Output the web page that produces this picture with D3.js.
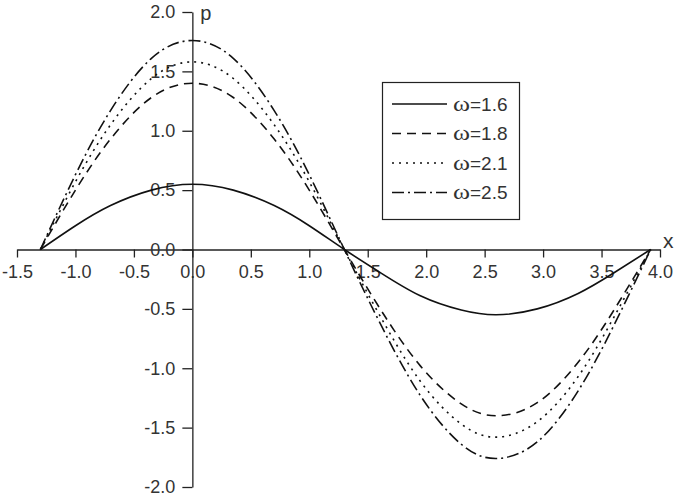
<!DOCTYPE html>
<html><head><meta charset="utf-8">
<script src="https://cdn.jsdelivr.net/npm/d3@7"></script>
<style>body{margin:0;background:#fff}svg{display:block}text{font-family:"Liberation Sans",Arial,sans-serif}</style>
</head><body><svg id="c" width="680" height="498"></svg>
<script>
const xs = [-1.3,-1.0,-0.7,-0.35,0,0.35,0.7,1.0,1.3,1.6,1.95,2.3,2.6,2.95,3.3,3.6,3.92];
const w16 = [0,0.20,0.37,0.50,0.55,0.50,0.37,0.20,0,-0.19,-0.39,-0.51,-0.55,-0.50,-0.37,-0.20,0];
const w18 = [0,0.50,0.93,1.28,1.40,1.28,0.93,0.50,0,-0.49,-0.98,-1.30,-1.40,-1.29,-0.95,-0.52,0];
const w21 = [0,0.57,1.05,1.44,1.58,1.44,1.05,0.57,0,-0.55,-1.11,-1.47,-1.58,-1.45,-1.07,-0.58,0];
const w25 = [0,0.63,1.17,1.61,1.76,1.61,1.17,0.63,0,-0.61,-1.23,-1.64,-1.76,-1.62,-1.19,-0.65,0];
const seriesNames = ["=1.6","=1.8","=2.1","=2.5"];
const xTicks = [-1.5,-1.0,-0.5,0.0,0.5,1.0,1.5,2.0,2.5,3.0,3.5,4.0];
const yTicks = [-2.0,-1.5,-1.0,-0.5,0.0,0.5,1.0,1.5,2.0];

const series = [w16,w18,w21,w25];
const dashes = [null,"9,6","2,5","12,4,2,4"];
const svg = d3.select("#c");
const x = d3.scaleLinear().domain([-1.5,4.0]).range([17,660]);
const y = d3.scaleLinear().domain([-2.0,2.0]).range([487,12]);
const col = "#333";
const fmt = d => d.toFixed(1);

const xg = svg.append("g").attr("transform",`translate(0,${y(0)})`)
  .call(d3.axisBottom(x).tickValues(xTicks).tickFormat(fmt).tickSize(8).tickSizeOuter(0));
xg.select(".domain").attr("stroke","#222").attr("stroke-width",1.3);
xg.selectAll(".tick line").attr("stroke","#222").attr("stroke-width",1.3);
xg.selectAll(".tick text").attr("font-size",18).attr("fill",col).attr("y",16);

const yg = svg.append("g").attr("transform",`translate(${x(0)},0)`)
  .call(d3.axisLeft(y).tickValues(yTicks).tickFormat(fmt).tickSize(10).tickSizeOuter(0));
yg.select(".domain").attr("stroke","#222").attr("stroke-width",1.3);
yg.selectAll(".tick line").attr("stroke","#222").attr("stroke-width",1.3);
yg.selectAll(".tick text").attr("font-size",18).attr("fill",col).attr("x",-17);

svg.append("text").attr("x",x(0)+8).attr("y",20).attr("font-size",20).attr("fill",col).text("p");
svg.append("text").attr("x",663).attr("y",y(0)-2).attr("font-size",21).attr("fill",col).text("x");

const line = d3.line().x(d=>x(d[0])).y(d=>y(d[1])).curve(d3.curveNatural);
series.forEach((s,i)=>{
  svg.append("path").datum(xs.map((xv,j)=>[xv,s[j]]))
    .attr("d",line).attr("fill","none").attr("stroke","#111").attr("stroke-width",1.6)
    .attr("stroke-dasharray",dashes[i]);
});

const lg = svg.append("g");
lg.append("rect").attr("x",382.5).attr("y",82.5).attr("width",137).attr("height",137)
  .attr("fill","#fff").attr("stroke","#222").attr("stroke-width",1.2);
seriesNames.forEach((n,i)=>{
  const yy = 104 + i*29.5;
  lg.append("line").attr("x1",392).attr("x2",447).attr("y1",yy).attr("y2",yy)
    .attr("stroke","#111").attr("stroke-width",1.6).attr("stroke-dasharray",dashes[i]);
  const t = lg.append("text").attr("x",453).attr("y",yy).attr("dy","0.36em").attr("font-size",19).attr("fill",col);
  t.append("tspan").attr("font-family","'Liberation Serif','Times New Roman',serif").attr("font-size",21)
    .attr("textLength",17).attr("lengthAdjust","spacingAndGlyphs").text("ω");
  t.append("tspan").text(n);
});
</script></body></html>
